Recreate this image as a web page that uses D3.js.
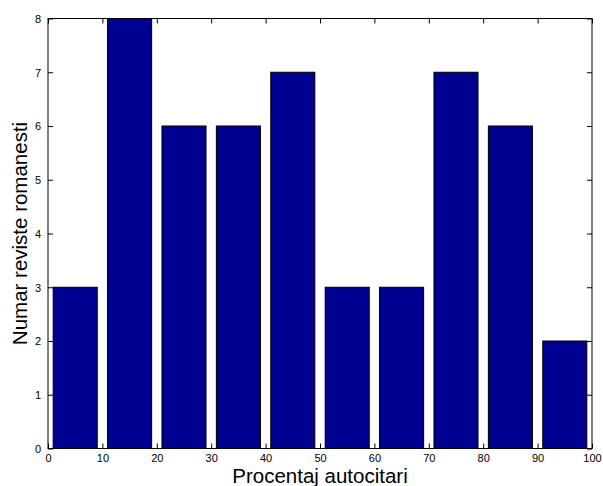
<!DOCTYPE html>
<html><head><meta charset="utf-8">
<script src="https://cdn.jsdelivr.net/npm/d3@7"></script>
<style>body{margin:0;background:#fff}</style>
</head><body>
<svg id="c" width="603" height="486"></svg>
<script>
const binCenters = [5, 15, 25, 35, 45, 55, 65, 75, 85, 95];
const counts = [3, 8, 6, 6, 7, 3, 3, 7, 6, 2];
const xTicks = [0, 10, 20, 30, 40, 50, 60, 70, 80, 90, 100];
const yTicks = [0, 1, 2, 3, 4, 5, 6, 7, 8];
const barWidth = 8.1;

const L = 48, R = 592, T = 18.5, B = 448.5;
const svg = d3.select("#c");
const x = d3.scaleLinear().domain([0, 100]).range([L, R]);
const y = d3.scaleLinear().domain([0, 8]).range([B, T]);
const font = "Liberation Sans, Arial, Helvetica, sans-serif";

svg.append("g").selectAll("rect").data(binCenters).join("rect")
  .attr("x", (d) => x(d - barWidth / 2))
  .attr("width", x(barWidth) - x(0))
  .attr("y", (d, i) => y(counts[i]))
  .attr("height", (d, i) => y(0) - y(counts[i]))
  .attr("fill", "#000090").attr("stroke", "#000").attr("stroke-width", 1);

const tl = 5;
const gx = svg.append("g").attr("transform", `translate(0,${B})`)
  .call(d3.axisBottom(x).tickValues(xTicks).tickSizeInner(-tl).tickSizeOuter(0).tickPadding(5.5));
const gxt = svg.append("g").attr("transform", `translate(0,${T})`)
  .call(d3.axisTop(x).tickValues(xTicks).tickSizeInner(-tl).tickSizeOuter(0).tickFormat(""));
const gy = svg.append("g").attr("transform", `translate(${L},0)`)
  .call(d3.axisLeft(y).tickValues(yTicks).tickSizeInner(-tl).tickSizeOuter(0).tickPadding(7));
const gyr = svg.append("g").attr("transform", `translate(${R},0)`)
  .call(d3.axisRight(y).tickValues(yTicks).tickSizeInner(-tl).tickSizeOuter(0).tickFormat(""));
[gx, gxt, gy, gyr].forEach(g => {
  g.selectAll(".domain").remove();
  g.selectAll("line").attr("stroke", "#000");
  g.selectAll("text").attr("font-family", font).attr("font-size", 11).attr("fill", "#000");
});
gx.selectAll("text").attr("dy", "0.71em");
gy.selectAll("text").attr("dy", "0.35em");

svg.append("rect").attr("x", L).attr("y", T).attr("width", R - L).attr("height", B - T)
  .attr("fill", "none").attr("stroke", "#000").attr("stroke-width", 1);

svg.append("text").attr("x", (L + R) / 2).attr("y", 483).attr("text-anchor", "middle")
  .attr("font-family", font).attr("font-size", 20.5).text("Procentaj autocitari");
svg.append("text").attr("transform", `translate(27,${(T + B) / 2}) rotate(-90)`)
  .attr("text-anchor", "middle").attr("font-family", font).attr("font-size", 20.5)
  .text("Numar reviste romanesti");
</script>
</body></html>
